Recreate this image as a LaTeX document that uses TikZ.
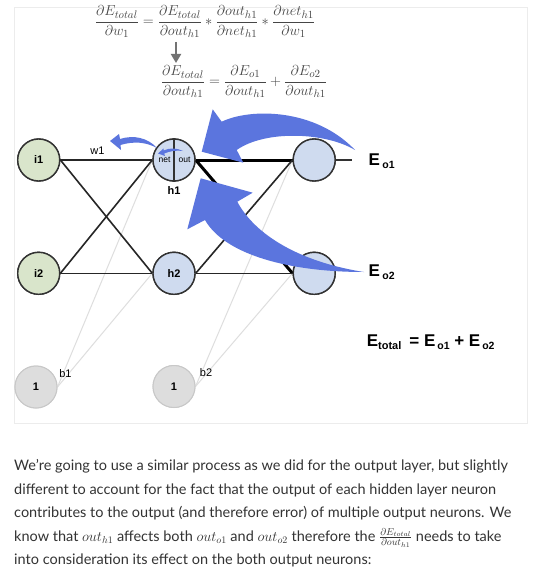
\documentclass[tikz,border=0pt]{standalone}
\usepackage{fontspec}
\setmainfont{Liberation Sans}
\newfontfamily\parafont{Lato}
\usepackage{graphicx}
\usetikzlibrary{arrows.meta}
\definecolor{igreen}{RGB}{217,229,203}
\definecolor{hblue}{RGB}{207,219,239}
\definecolor{bgray}{RGB}{221,221,221}
\definecolor{bborder}{RGB}{200,200,200}
\definecolor{arrblue}{RGB}{91,117,222}
\definecolor{txt}{RGB}{51,51,51}
\definecolor{framecol}{RGB}{236,236,236}
\definecolor{eqgray}{RGB}{70,70,70}
\definecolor{nodeline}{RGB}{50,50,50}
\begin{document}
\begin{tikzpicture}[x=1pt,y=-1pt,
  neuron/.style={circle, draw=nodeline, line width=1.4pt, minimum size=42pt, inner sep=0pt, font=\fontsize{11}{13}\selectfont\bfseries},
  biasnode/.style={circle, draw=bborder, fill=bgray, line width=1pt, minimum size=42pt, inner sep=0pt, font=\fontsize{11}{13}\selectfont\bfseries},
  wire/.style={line width=1.6pt, black!85},
  thickwire/.style={line width=3pt, black},
  biaswire/.style={line width=1pt, black!13},
  lab/.style={inner sep=0pt, font=\fontsize{11}{13}\selectfont},
  blab/.style={inner sep=0pt, font=\fontsize{11}{13}\selectfont\bfseries},
  tiny/.style={inner sep=0pt, font=\fontsize{8.5}{10}\selectfont},
  errlab/.style={inner sep=0pt, anchor=base west, font=\fontsize{17}{19}\selectfont\bfseries},
  para/.style={inner sep=0pt, anchor=base west, text=txt, font=\parafont\fontsize{14.5}{17}\selectfont},
  eqnode/.style={inner sep=0pt, text=eqgray, font=\fontsize{15.6}{18}\selectfont}
]
\useasboundingbox (0,0) rectangle (540,575);
\fill[white] (0,0) rectangle (540,575);
\draw[framecol, line width=1pt] (14,8) rectangle (527,423);

% equations
\node[eqnode] (eq1) at (205,21.7) {$\displaystyle \frac{\partial E_{total}}{\partial w_1} = \frac{\partial E_{total}}{\partial out_{h1}} * \frac{\partial out_{h1}}{\partial net_{h1}} * \frac{\partial net_{h1}}{\partial w_1}$};
\node[eqnode] (eq2) at (244,81.7) {$\displaystyle \frac{\partial E_{total}}{\partial out_{h1}} = \frac{\partial E_{o1}}{\partial out_{h1}} + \frac{\partial E_{o2}}{\partial out_{h1}}$};
\coordinate (da1) at (176,42);
\coordinate (da2) at (176,63);
\draw[line width=2pt, black!55, -{Triangle[width=10pt,length=9pt]}] (da1) -- (da2);

% nodes
\node[neuron, fill=igreen] (i1) at (38.7,160) {i1};
\node[neuron, fill=igreen] (i2) at (38.7,273.3) {i2};
\node[neuron, fill=hblue] (h1) at (174,160) {};
\node[neuron, fill=hblue] (h2) at (174,273.3) {h2};
\node[neuron, fill=hblue] (o1) at (314.2,160) {};
\node[neuron, fill=hblue] (o2) at (314.2,273.3) {};
\node[biasnode] (b1) at (36,387) {1};
\node[biasnode] (b2) at (174,386.5) {1};

% wires
\draw[biaswire] (b1.east) -- (h1.west);
\draw[biaswire] (b1.east) -- (h2.west);
\draw[biaswire] (b2.east) -- (o1.west);
\draw[biaswire] (b2.east) -- (o2.west);
\draw[wire] (i1.east) -- (h1.west);
\draw[wire] (i1.east) -- (h2.west);
\draw[wire] (i2.east) -- (h1.west);
\draw[wire] (i2.east) -- (h2.west);
\draw[thickwire] (h1.east) -- (o1.west);
\draw[thickwire] (h1.east) -- (o2.west);
\draw[wire] (h2.east) -- (o1.west);
\draw[wire] (h2.east) -- (o2.west);
\coordinate (eo1end) at (352,160);
\draw[line width=1.2pt, nodeline] (o1.east) -- (eo1end);

% redraw nodes on top of wires
\node[neuron, fill=igreen] at (i1) {i1};
\node[neuron, fill=igreen] at (i2) {i2};
\node[neuron, fill=hblue] at (h1) {};
\node[neuron, fill=hblue] at (h2) {h2};
\node[neuron, fill=hblue] at (o1) {};
\node[neuron, fill=hblue] at (o2) {};
\node[biasnode] at (b1) {1};
\node[biasnode] at (b2) {1};
\draw[line width=1.4pt, nodeline] (h1.north) -- (h1.south);

% labels
\node[tiny] (netlab) at (164.5,159.5) {net};
\node[tiny] (outlab) at (184.5,159.5) {out};
\node[blab] (h1lab) at (174,191) {h1};
\node[lab] (w1lab) at (97.5,151) {w1};
\node[lab] (b1lab) at (65.5,373.3) {b1};
\node[lab] (b2lab) at (206,372.3) {b2};
\node[errlab] (eo1) at (368.3,165.7) {E\hspace{2.5pt}\raisebox{-2.6pt}{\fontsize{10.5}{12}\selectfont o1}};
\node[errlab] (eo2) at (368.3,276.7) {E\hspace{2.5pt}\raisebox{-2.6pt}{\fontsize{10.5}{12}\selectfont o2}};
\node[errlab] (etot) at (366.6,346.7) {E\raisebox{-2.6pt}{\fontsize{11}{12}\selectfont total}\hspace{8pt}= E\hspace{2pt}\raisebox{-2.6pt}{\fontsize{10.5}{12}\selectfont o1} + E\hspace{2pt}\raisebox{-2.6pt}{\fontsize{10.5}{12}\selectfont o2}};

% blue arrows
\fill[arrblue] (201.7,151.7) -- (212.7,109.3) -- (221.7,121.7) .. controls (250,108) and (315,108) .. (355,150) .. controls (325,132) and (265,130) .. (236.7,150) -- (243.3,162.7) -- cycle;
\fill[arrblue] (200.7,178.3) -- (252.7,192.7) -- (237.3,201.7) .. controls (255,235) and (300,262) .. (364,272) .. controls (290,272) and (225,255) .. (205,220) -- (187.3,229.3) -- cycle;
\fill[arrblue] (110,141) -- (119,134) -- (120,139) .. controls (134,134.5) and (148,138) .. (157,148) .. controls (146,142) and (134,141) .. (120.5,145) -- (121,150) -- cycle;
\fill[arrblue] (158,153.5) -- (163.5,148.5) -- (163.7,150.5) .. controls (170,147.5) and (177,148) .. (183,151) .. controls (177,150) and (170,151) .. (164.2,153.5) -- (165,156) -- cycle;

% paragraph
\node[para] (l1) at (14,470.5) {We’re going to use a similar process as we did for the output layer, but slightly};
\node[para] (l2) at (14,494) {different to account for the fact that the output of each hidden layer neuron};
\node[para] (l3) at (14,517.5) {contributes to the output (and therefore error) of multiple output neurons. We};
\node[para] (l4) at (14,541) {know that $out_{h1}$ affects both $out_{o1}$ and $out_{o2}$ therefore the $\frac{\partial E_{total}}{\partial out_{h1}}$ needs to take};
\node[para] (l5) at (14,564.5) {into consideration its effect on the both output neurons:};
\end{tikzpicture}
\end{document}
